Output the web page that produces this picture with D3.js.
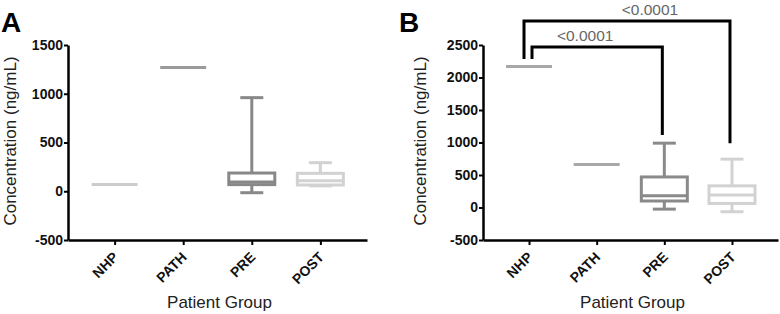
<!DOCTYPE html>
<html>
<head>
<meta charset="utf-8">
<script src="https://cdn.jsdelivr.net/npm/d3@7"></script>
<style>
  body { margin: 0; background: #fff; }
  svg { display: block; font-family: "Liberation Sans", Arial, sans-serif; }
</style>
</head>
<body>
<div id="chart"></div>
<script>
var W = 780, H = 314;

var groups = ["NHP", "PATH", "PRE", "POST"];

// panel A summaries (min, q1, median, q3, max)
var aMin = [70, 1270, -15, 55];
var aQ1  = [70, 1270, 68, 64];
var aMed = [70, 1270, 95, 108];
var aQ3  = [70, 1270, 187, 184];
var aMax = [70, 1270, 960, 293];
var aTicks = [-500, 0, 500, 1000, 1500];

// panel B summaries
var bMin = [2170, 660, -25, -65];
var bQ1  = [2170, 660, 100, 62];
var bMed = [2170, 660, 181, 192];
var bQ3  = [2170, 660, 470, 333];
var bMax = [2170, 660, 990, 744];
var bTicks = [-500, 0, 500, 1000, 1500, 2000, 2500];

// significance brackets in panel B
var cmpFrom = ["NHP", "NHP"];
var cmpTo = ["PRE", "POST"];
var cmpText = ["<0.0001", "<0.0001"];
var cmpTop = [2470, 2870];
var cmpLeftEnd = [2285, 2285];
var cmpRightEnd = [1115, 990];

var aColors = ["#cccccc", "#9a9a9a", "#888888", "#d2d2d2"];
var bColors = ["#a8a8a8", "#a8a8a8", "#8a8a8a", "#d2d2d2"];

var FONT = "'Liberation Sans', Arial, sans-serif";

var svg = d3.select("#chart").append("svg")
    .attr("width", W)
    .attr("height", H);

function drawPanel(p) {
    var g = svg.append("g");

    var x = d3.scalePoint()
        .domain(groups)
        .range([p.left, p.right])
        .padding(0.68);
    var y = d3.scaleLinear()
        .domain(p.domain)
        .range([240, 45]);

    // y axis
    var ya = g.append("g")
        .attr("transform", `translate(${p.left},0)`)
        .call(d3.axisLeft(y).tickValues(p.ticks).tickSize(4).tickSizeOuter(0).tickPadding(1).tickFormat(d => String(d)));
    ya.attr("font-family", FONT);
    ya.select(".domain").attr("stroke-width", 2.5);
    ya.selectAll(".tick line").attr("stroke-width", 2);
    ya.selectAll("text")
        .attr("font-size", "14px")
        .attr("font-weight", "bold")
        .attr("fill", "#111");

    // x axis
    var xa = g.append("g")
        .attr("transform", "translate(0,240)")
        .call(d3.axisBottom(x).tickSize(5).tickSizeOuter(0));
    xa.attr("font-family", FONT);
    xa.select(".domain").attr("stroke-width", 2.5);
    xa.selectAll(".tick line").attr("stroke-width", 2);
    xa.selectAll("text")
        .attr("x", 0).attr("y", 0).attr("dy", 0)
        .attr("text-anchor", "end")
        .attr("transform", "translate(4,18) rotate(-45)")
        .attr("font-size", "14px")
        .attr("font-weight", "bold")
        .attr("fill", "#111");

    // titles
    g.append("text")
        .attr("transform", `translate(${p.titleX},141) rotate(-90)`)
        .attr("text-anchor", "middle")
        .attr("font-size", "17px")
        .attr("fill", "#222")
        .text("Concentration (ng/mL)");
    g.append("text")
        .attr("x", (p.left + p.right) / 2 + 2)
        .attr("y", 308)
        .attr("text-anchor", "middle")
        .attr("font-size", "17px")
        .attr("fill", "#222")
        .text("Patient Group");
    g.append("text")
        .attr("x", p.letterX)
        .attr("y", 32)
        .attr("font-size", "28px")
        .attr("font-weight", "bold")
        .text(p.letter);

    // boxes
    var hw = 23, cw = 11.5;
    var boxes = g.selectAll("g.box")
        .data(groups.map((k, i) => ({ k: k, min: p.min[i], q1: p.q1[i], med: p.med[i], q3: p.q3[i], max: p.max[i], c: p.colors[i] })))
        .enter().append("g")
        .attr("class", "box")
        .attr("stroke", d => d.c)
        .attr("stroke-width", 3)
        .attr("fill", "none");

    boxes.filter(d => d.max > d.q3).each(function (d) {
        var cx = x(d.k), s = d3.select(this);
        s.append("line").attr("x1", cx).attr("x2", cx).attr("y1", y(d.max)).attr("y2", y(d.q3));
        s.append("line").attr("x1", cx).attr("x2", cx).attr("y1", y(d.q1)).attr("y2", y(d.min));
        s.append("line").attr("x1", cx - cw).attr("x2", cx + cw).attr("y1", y(d.max)).attr("y2", y(d.max));
        s.append("line").attr("x1", cx - cw).attr("x2", cx + cw).attr("y1", y(d.min)).attr("y2", y(d.min));
        s.append("rect")
            .attr("x", cx - hw).attr("width", 2 * hw)
            .attr("y", y(d.q3)).attr("height", y(d.q1) - y(d.q3))
            .attr("fill", "#fff");
    });
    boxes.append("line")
        .attr("x1", d => x(d.k) - hw).attr("x2", d => x(d.k) + hw)
        .attr("y1", d => y(d.med)).attr("y2", d => y(d.med));

    return { g: g, x: x, y: y };
}

var A = drawPanel({
    left: 68, right: 367, domain: [-500, 1500], ticks: aTicks,
    min: aMin, q1: aQ1, med: aMed, q3: aQ3, max: aMax, colors: aColors,
    letter: "A", letterX: 1, titleX: 16
});
var B = drawPanel({
    left: 483, right: 778, domain: [-500, 2500], ticks: bTicks,
    min: bMin, q1: bQ1, med: bMed, q3: bQ3, max: bMax, colors: bColors,
    letter: "B", letterX: 399, titleX: 426
});

// brackets
var legOff = [3, -5];
var txtOff = [-12, 23];
cmpFrom.forEach(function (f, i) {
    var x1 = B.x(f) + legOff[i], x2 = B.x(cmpTo[i]) - 2;
    var yt = B.y(cmpTop[i]);
    B.g.append("path")
        .attr("d", `M${x1},${B.y(cmpLeftEnd[i])}V${yt}H${x2}V${B.y(cmpRightEnd[i])}`)
        .attr("fill", "none")
        .attr("stroke", "#000")
        .attr("stroke-width", 3);
    B.g.append("text")
        .attr("x", (x1 + x2) / 2 + txtOff[i])
        .attr("y", yt - 6)
        .attr("text-anchor", "middle")
        .attr("font-size", "15.5px")
        .attr("fill", "#666")
        .text(cmpText[i]);
});
</script>
</body>
</html>
